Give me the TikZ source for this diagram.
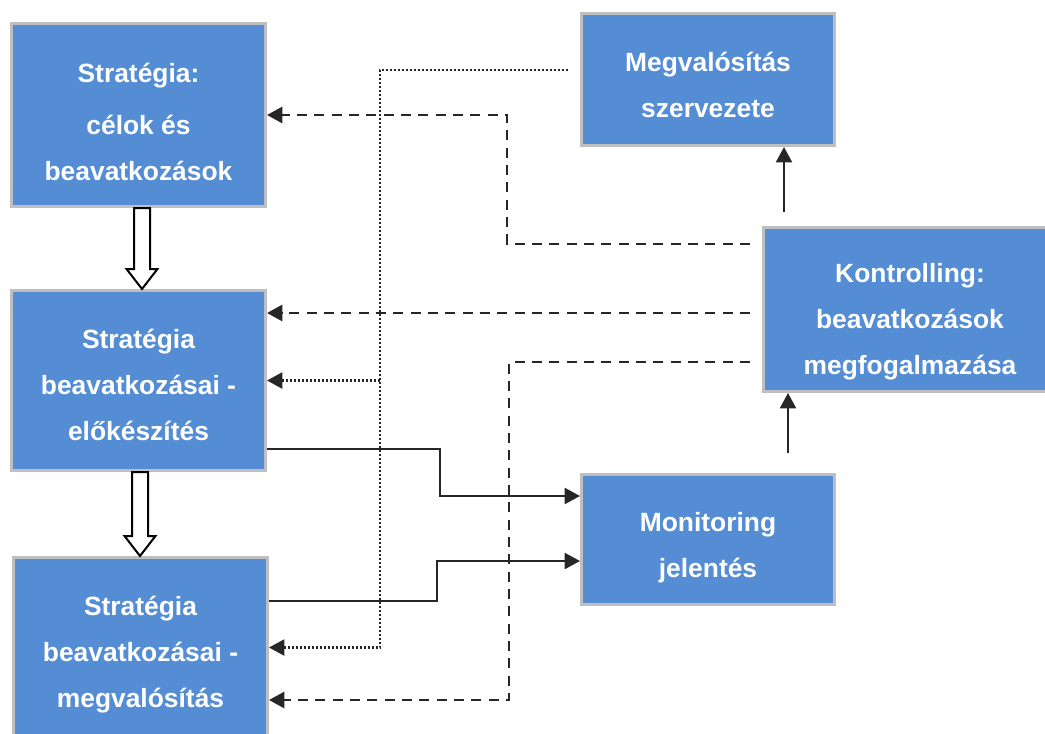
\documentclass[tikz,border=0pt]{standalone}
\usepackage{fontspec}
\setmainfont{Liberation Sans}
\usetikzlibrary{arrows.meta,calc}
\definecolor{boxblue}{RGB}{84,141,212}
\definecolor{boxrim}{RGB}{191,191,191}
\definecolor{dg}{RGB}{38,38,38}
% first-line strut, pushes the text of a box down
\newcommand\topstrut[1]{\rule{0pt}{#1}}
\tikzset{
    box/.style =    {rectangle,
                    fill=boxblue,
                    draw=boxrim,
                    text=white,
                    line width=2.25pt,
                    inner sep=0pt,
                    align=center,
                    font=\fontsize{19.8}{34.5}\selectfont\bfseries},
    dashline/.style = {draw=dg,
                    line width=2pt,
                    dash pattern=on 7.5pt off 5.5pt},
    dotline/.style = {draw=dg,
                    line width=1.7pt,
                    dash pattern=on 1.4pt off 1.6pt},
    plainline/.style = {draw=dg,
                    line width=1.5pt},
    hollow/.style = {draw=black,
                    fill=white,
                    line width=1.5pt},
    >={Triangle[length=11.5pt,width=12pt]}}

\begin{document}
\begin{tikzpicture}[x=0.75pt,y=-0.75pt]
                \clip (0,0) rectangle (1045,733);
                \fill[white] (0,0) rectangle (1045,733);

                \node[box,minimum width=190.5pt,minimum height=137.25pt]  (strat)   at (138.5,115)  {\topstrut{25pt}Strat\'egia:\\[5pt]c\'elok \'es\\beavatkoz\'asok};
                \node[box,minimum width=190.5pt,minimum height=135pt]     (elokesz) at (138.5,380.5) {\topstrut{20.5pt}Strat\'egia\\beavatkoz\'asai -\\előkész\'it\'es};
                \node[box,minimum width=190.5pt,minimum height=135pt]     (megval)  at (140.5,647.5) {\topstrut{25pt}Strat\'egia\\beavatkoz\'asai -\\megval\'os\'it\'as};
                \node[box,minimum width=189.75pt,minimum height=99pt]     (szerv)   at (708,79.5)    {\topstrut{22pt}Megval\'os\'it\'as\\szervezete};
                \node[box,minimum width=219.75pt,minimum height=123pt]    (kontr)   at (910,309.5)   {\topstrut{33pt}Kontrolling:\\beavatkoz\'asok\\megfogalmaz\'asa};
                \node[box,minimum width=189.75pt,minimum height=97.5pt]   (monit)   at (708,539.5)   {\topstrut{26.5pt}Monitoring\\jelent\'es};

                % hollow arrows down the left column
                \draw[hollow] let \p1=($(strat.south)+(3.5,0)$), \p2=(elokesz.north) in
                        ({\x1-6pt},\y1) -- ({\x1-6pt},{\y2+15pt}) -- ({\x1-11.6pt},{\y2+15pt}) -- (\x1,\y2)
                        -- ({\x1+11.6pt},{\y2+15pt}) -- ({\x1+6pt},{\y2+15pt}) -- ({\x1+6pt},\y1) -- cycle;
                \draw[hollow] let \p1=($(elokesz.south)+(1.5,0)$), \p2=(megval.north) in
                        ({\x1-6pt},\y1) -- ({\x1-6pt},{\y2+15pt}) -- ({\x1-11.6pt},{\y2+15pt}) -- (\x1,\y2)
                        -- ({\x1+11.6pt},{\y2+15pt}) -- ({\x1+6pt},{\y2+15pt}) -- ({\x1+6pt},\y1) -- cycle;

                % dotted
                \draw[dotline,->] ($(szerv.west)+(-12,-9.5)$) -| (380,380) |- (megval.east);
                \draw[dotline,->] (380,380.5) -- (elokesz.east);

                % dashed
                \draw[dashline,->] ($(kontr.west)+(-12,-65.5)$) -| (507,115) -- (strat.east);
                \draw[dashline,->] ($(kontr.west)+(-12,3.5)$) coordinate (k2) -- (elokesz.east |- k2);
                \draw[dashline,->] ($(kontr.west)+(-12,52.5)$) -| (509,700) -- ($(megval.east)+(0,52.5)$);

                % solid
                \draw[plainline,->] ($(elokesz.east)+(0,68.5)$) -| (440,496) -- ($(monit.west)+(0,-43.5)$);
                \draw[plainline,->] ($(megval.east)+(0,-46.5)$) -| (437,561) -- ($(monit.west)+(0,21.5)$);

                \coordinate (up1) at (784,212);
                \coordinate (up2) at (788,453);
                \draw[plainline,->] (up1) -- (up1 |- szerv.south);
                \draw[plainline,->] (up2) -- (up2 |- kontr.south);
        \end{tikzpicture}
\end{document}
